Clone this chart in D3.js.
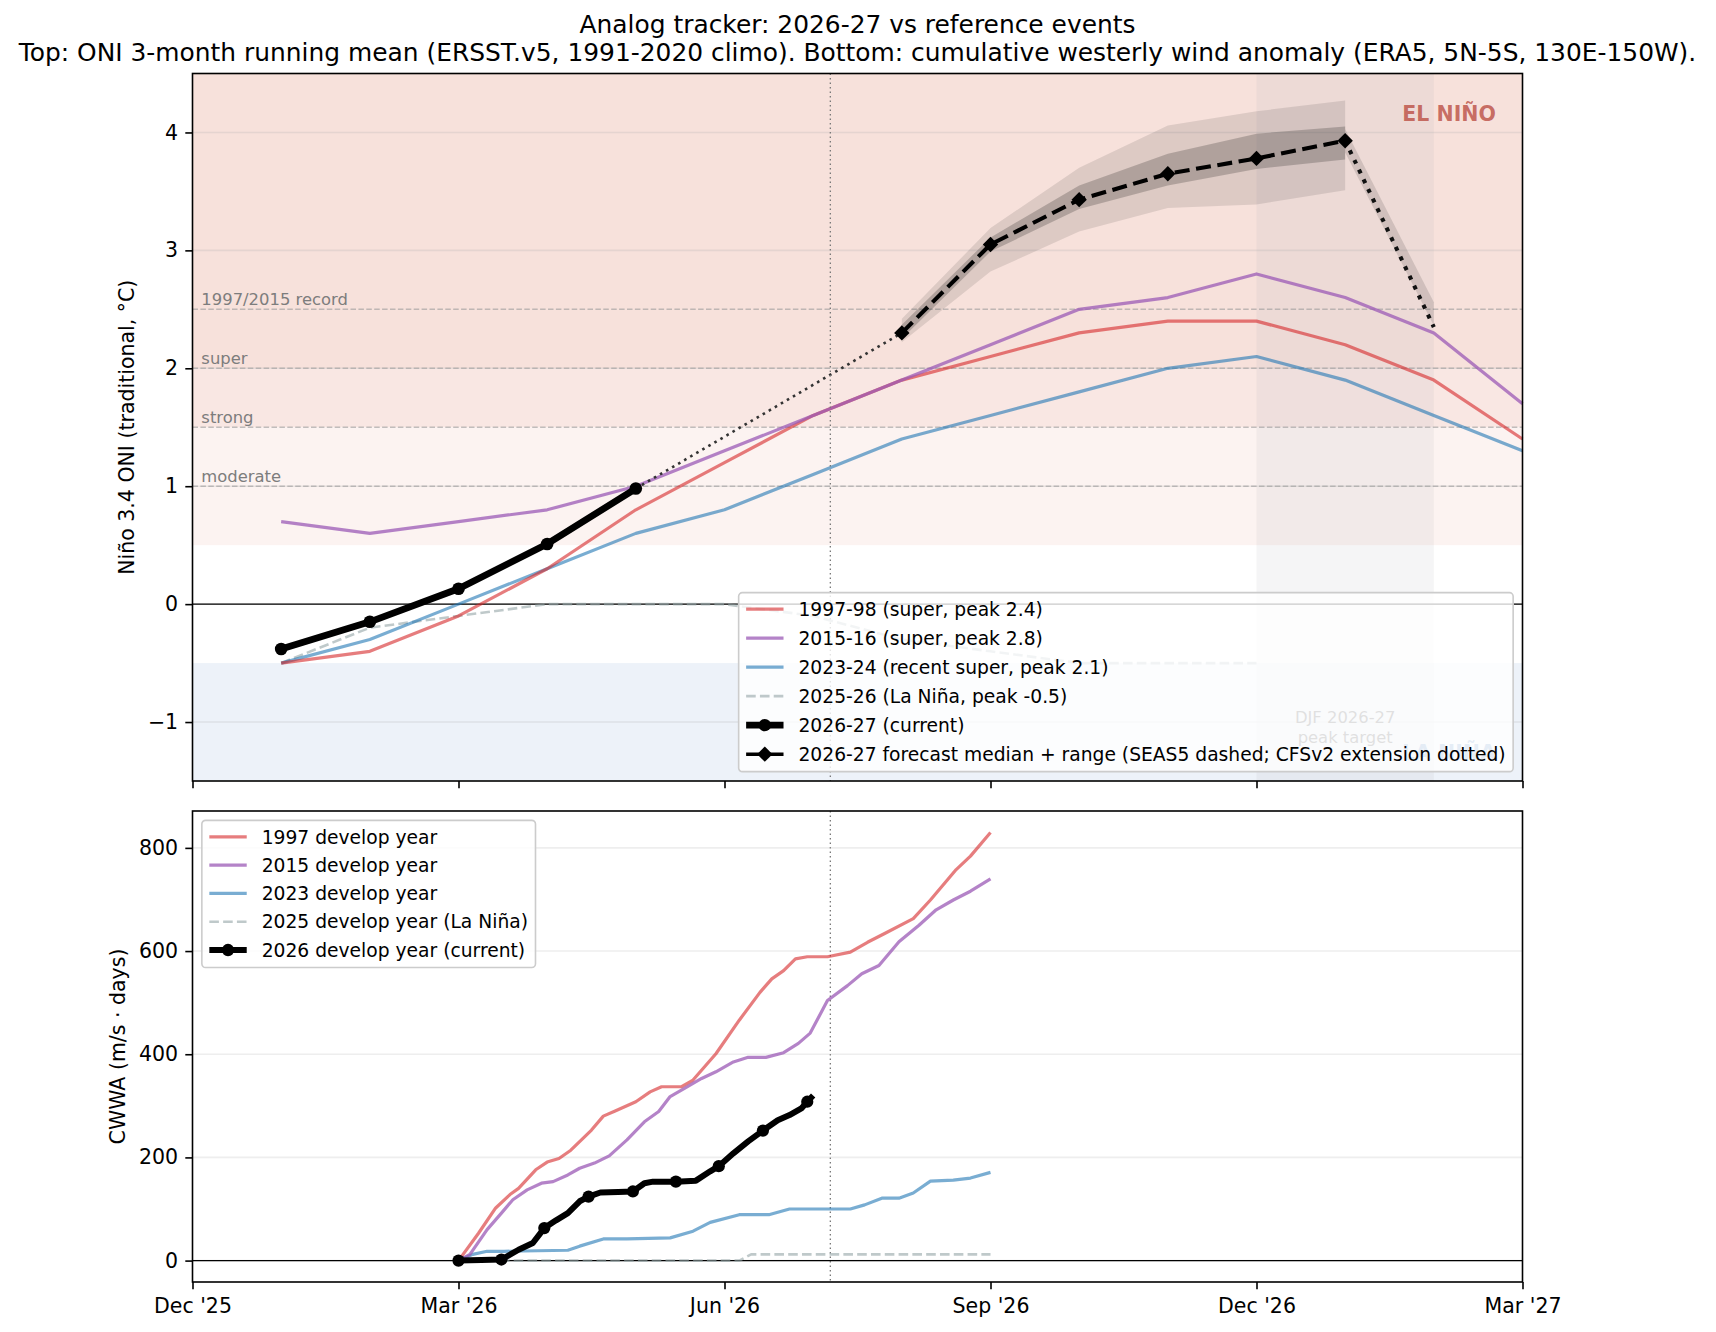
<!DOCTYPE html>
<html>
<head>
<meta charset="utf-8">
<script src="https://cdn.jsdelivr.net/npm/d3@7"></script>
<style>
  body { margin: 0; background: #fff; }
  svg text { font-family: "DejaVu Sans", sans-serif; }
</style>
</head>
<body>
<div id="chart"></div>
<script>
// x positions are month indices: 0 = Dec 2025 ... 15 = Mar 2027
var tickMonths = [0, 3, 6, 9, 12, 15];
var tickLabels = ["Dec '25", "Mar '26", "Jun '26", "Sep '26", "Dec '26", "Mar '27"];

// ONI, one value per month starting Jan 2026 (index 1)
var oni1997 = [-0.5, -0.4, -0.1, 0.3, 0.8, 1.2, 1.6, 1.9, 2.1, 2.3, 2.4, 2.4, 2.2, 1.9, 1.4];
var oni2015 = [0.7, 0.6, 0.7, 0.8, 1.0, 1.3, 1.6, 1.9, 2.2, 2.5, 2.6, 2.8, 2.6, 2.3, 1.7];
var oni2023 = [-0.5, -0.3, 0.0, 0.3, 0.6, 0.8, 1.1, 1.4, 1.6, 1.8, 2.0, 2.1, 1.9, 1.6, 1.3];
var oni2025 = [-0.5, -0.2, -0.1, 0.0, 0.0, 0.0, -0.1, -0.3, -0.4, -0.5, -0.5, -0.5];
var oni2026 = [-0.38, -0.15, 0.13, 0.51, 0.98];

// forecast (SEAS5) Aug 2026 .. Jan 2027
var fcMonths = [8, 9, 10, 11, 12, 13];
var fcMedian = [2.30, 3.05, 3.43, 3.65, 3.78, 3.93];
var fcInnerLo = [2.25, 2.99, 3.35, 3.55, 3.69, 3.77];
var fcInnerHi = [2.37, 3.11, 3.55, 3.82, 3.99, 4.05];
var fcOuterLo = [2.22, 2.82, 3.16, 3.36, 3.39, 3.51];
var fcOuterHi = [2.42, 3.19, 3.70, 4.06, 4.18, 4.27];
// CFSv2 extension Jan -> Feb 2027
var extMonths = [13, 14];
var extMedian = [3.93, 2.35];
var extLo = [3.83, 2.36];
var extHi = [4.03, 2.56];

var thresholds = [1.0, 1.5, 2.0, 2.5];
var thresholdLabels = ["moderate", "strong", "super", "1997/2015 record"];
var ninoBands = [[0.5, 1.5], [1.5, 2.0], [2.0, 4.5]];
var ninaBand = [-1.5, -0.5];
var djfMonths = [12, 14];
var today = new Date(2026, 6, 7);

// cumulative westerly wind anomaly: [days since 1 Mar 2026, m/s*days]
var cwwa1997 = [[0,0],[7,53],[13,102],[18,128],[21,140],[27,176],[31,191],[35,198],[39,214],[46,253],[50,280],[54,290],[61,308],[66,327],[70,337],[77,337],[81,350],[89,401],[97,466],[104,520],[108,546],[112,562],[116,585],[120,589],[127,589],[135,598],[141,617],[147,634],[157,663],[163,699],[172,758],[177,784],[184,830]];
var cwwa2015 = [[0,0],[4,12],[10,60],[15,92],[19,118],[24,137],[29,150],[33,153],[38,166],[42,179],[47,189],[52,203],[58,234],[64,269],[69,289],[73,318],[78,334],[84,353],[89,366],[95,385],[100,394],[106,394],[112,403],[117,421],[121,441],[127,504],[134,533],[139,556],[145,572],[152,618],[159,650],[165,680],[171,699],[177,716],[184,740]];
var cwwa2023 = [[0,0],[5,12],[10,18],[16,18],[38,20],[42,28],[50,42],[58,42],[73,44],[81,57],[87,74],[97,89],[107,89],[114,100],[135,100],[140,108],[146,121],[152,121],[157,131],[163,154],[171,156],[177,160],[184,171]];
var cwwa2025 = [[0,0],[97,0],[101,12],[184,12]];
var cwwa2026 = [[0,0],[8,1],[15,2],[21,21],[26,34],[30,63],[34,78],[38,92],[42,115],[45,124],[49,132],[55,133],[60,134],[64,150],[67,153],[75,153],[82,155],[87,173],[90,183],[95,208],[100,231],[105,252],[110,272],[114,282],[118,295],[120,308],[122,320]];

var topLegendLabels = ["1997-98 (super, peak 2.4)", "2015-16 (super, peak 2.8)", "2023-24 (recent super, peak 2.1)",
  "2025-26 (La Niña, peak -0.5)", "2026-27 (current)", "2026-27 forecast median + range (SEAS5 dashed; CFSv2 extension dotted)"];
var botLegendLabels = ["1997 develop year", "2015 develop year", "2023 develop year", "2025 develop year (La Niña)", "2026 develop year (current)"];

// ---- styles ----
var red = { color: "#d62728", opacity: 0.6, width: 3.2 };
var purple = { color: "#9b59b6", opacity: 0.75, width: 3.2 };
var blue = { color: "#1f77b4", opacity: 0.6, width: 3.2 };
var grey = { color: "#95a5a6", opacity: 0.6, width: 2.6, dash: "9.6,4.2" };

var W = 1716, H = 1332;
var left = 192.5, right = 1522.5;
var top1 = 73.5, bot1 = 781, top2 = 811, bot2 = 1282;
var tickFs = 20.5, legFs = 18.7;

var x = d3.scaleLinear().domain([0, 15]).range([left, right]);
var yTop = d3.scaleLinear().domain([-1.5, 4.5]).range([bot1, top1]);
var yBot = d3.scaleLinear().domain([-41.5, 871.5]).range([bot2, top2]);

// month index from a date, fraction by day of month
function monthIndex(date) {
  var m = (date.getFullYear() - 2025) * 12 + date.getMonth() - 11;
  var dim = new Date(date.getFullYear(), date.getMonth() + 1, 0).getDate();
  return m + (date.getDate() - 1) / dim;
}
var mar1 = new Date(2026, 2, 1);
function dayX(d) { return x(monthIndex(d3.timeDay.offset(mar1, d))); }

var svg = d3.select("#chart").append("svg")
  .attr("width", W).attr("height", H)
  .style("background", "#fff");

// titles
svg.append("text").attr("x", (left + right) / 2).attr("y", 33)
  .attr("text-anchor", "middle").attr("font-size", 24.9)
  .text("Analog tracker: 2026-27 vs reference events");
svg.append("text").attr("x", (left + right) / 2).attr("y", 60.5)
  .attr("text-anchor", "middle").attr("font-size", 24.9)
  .text("Top: ONI 3-month running mean (ERSST.v5, 1991-2020 climo). Bottom: cumulative westerly wind anomaly (ERA5, 5N-5S, 130E-150W).");

// ================= top panel =================
var g1 = svg.append("g");

// background regime bands
var ninoFills = ["#fcf3f1", "#f9e7e3", "#f7e1db"];
g1.selectAll("rect.nino").data(ninoBands).join("rect")
  .attr("x", left).attr("width", right - left)
  .attr("y", d => yTop(d[1])).attr("height", d => yTop(d[0]) - yTop(d[1]))
  .attr("fill", (d, i) => ninoFills[i]);
g1.append("rect")
  .attr("x", left).attr("width", right - left)
  .attr("y", yTop(ninaBand[1])).attr("height", yTop(ninaBand[0]) - yTop(ninaBand[1]))
  .attr("fill", "#edf2f9");

// DJF target window
g1.append("rect")
  .attr("x", x(djfMonths[0])).attr("width", x(djfMonths[1]) - x(djfMonths[0]))
  .attr("y", top1).attr("height", bot1 - top1)
  .attr("fill", "#a0a4ab").attr("opacity", 0.11);

// horizontal grid
g1.selectAll("line.grid").data([-1, 0, 1, 2, 3, 4]).join("line")
  .attr("x1", left).attr("x2", right)
  .attr("y1", d => yTop(d)).attr("y2", d => yTop(d))
  .attr("stroke", "#b0b0b0").attr("stroke-opacity", 0.25).attr("stroke-width", 1.6);

// intensity thresholds
g1.selectAll("line.thr").data(thresholds).join("line")
  .attr("x1", left).attr("x2", right)
  .attr("y1", d => yTop(d)).attr("y2", d => yTop(d))
  .attr("stroke", "#9a9a9a").attr("stroke-opacity", 0.6)
  .attr("stroke-width", 1.5).attr("stroke-dasharray", "5.5,2.4");
g1.selectAll("text.thr").data(thresholds).join("text")
  .attr("x", x(0.1)).attr("y", d => yTop(d) - 4.5)
  .attr("font-size", 16.4).attr("fill", "#7d7d7d")
  .text((d, i) => thresholdLabels[i]);

// zero line
g1.append("line").attr("x1", left).attr("x2", right)
  .attr("y1", yTop(0)).attr("y2", yTop(0))
  .attr("stroke", "#000").attr("stroke-width", 1.4);

// today marker (both panels)
[[top1, bot1], [top2, bot2]].forEach(function (r) {
  svg.append("line").attr("x1", x(monthIndex(today))).attr("x2", x(monthIndex(today)))
    .attr("y1", r[0]).attr("y2", r[1])
    .attr("stroke", "#777").attr("stroke-width", 1.3).attr("stroke-dasharray", "1.5,3");
});

// forecast ranges
var area = d3.area().x(d => x(d.m)).y0(d => yTop(d.lo)).y1(d => yTop(d.hi));
g1.append("path")
  .datum(fcMonths.map((m, i) => ({ m: m, lo: fcOuterLo[i], hi: fcOuterHi[i] })))
  .attr("d", area).attr("fill", "#000").attr("fill-opacity", 0.1);
g1.append("path")
  .datum(fcMonths.map((m, i) => ({ m: m, lo: fcInnerLo[i], hi: fcInnerHi[i] })))
  .attr("d", area).attr("fill", "#000").attr("fill-opacity", 0.2);
g1.append("path")
  .datum(extMonths.map((m, i) => ({ m: m, lo: extLo[i], hi: extHi[i] })))
  .attr("d", area).attr("fill", "#000").attr("fill-opacity", 0.12);

// reference years
var lineTop = d3.line().x(d => x(d.m)).y(d => yTop(d.v));
function monthly(vals) { return vals.map((v, i) => ({ m: i + 1, v: v })); }
function drawLine(g, data, gen, st) {
  return g.append("path").datum(data).attr("d", gen)
    .attr("fill", "none").attr("stroke", st.color)
    .attr("stroke-opacity", st.opacity).attr("stroke-width", st.width)
    .attr("stroke-dasharray", st.dash || null)
    .attr("stroke-linejoin", "round");
}
drawLine(g1, monthly(oni2025), lineTop, grey);
drawLine(g1, monthly(oni2023), lineTop, blue);
drawLine(g1, monthly(oni1997), lineTop, red);
drawLine(g1, monthly(oni2015), lineTop, purple);

// connector from last obs to first forecast
drawLine(g1, [{ m: oni2026.length, v: oni2026[oni2026.length - 1] }, { m: fcMonths[0], v: fcMedian[0] }],
  lineTop, { color: "#333", opacity: 1, width: 2.6, dash: "2.6,4.4" });
// CFSv2 extension
drawLine(g1, extMonths.map((m, i) => ({ m: m, v: extMedian[i] })), lineTop,
  { color: "#111", opacity: 1, width: 4.1, dash: "4.1,6.6" });
// SEAS5 median
var fcData = fcMonths.map((m, i) => ({ m: m, v: fcMedian[i] }));
drawLine(g1, fcData, lineTop, { color: "#000", opacity: 1, width: 4.1, dash: "15,6.6" });
var diamond = d3.symbol().type(d3.symbolSquare).size(118);
g1.selectAll("path.fc").data(fcData).join("path")
  .attr("d", diamond)
  .attr("transform", d => `translate(${x(d.m)},${yTop(d.v)}) rotate(45)`)
  .attr("fill", "#000");

// current year
var cur = monthly(oni2026);
drawLine(g1, cur, lineTop, { color: "#000", opacity: 1, width: 6.8 });
g1.selectAll("circle.cur").data(cur).join("circle")
  .attr("cx", d => x(d.m)).attr("cy", d => yTop(d.v)).attr("r", 6.3).attr("fill", "#000");

// labels
g1.append("text").attr("x", x(14.7)).attr("y", 120.5)
  .attr("text-anchor", "end").attr("font-size", 20.5).attr("font-weight", "bold")
  .attr("fill", "#b8473b").attr("fill-opacity", 0.75).text("EL NIÑO");
g1.append("text").attr("x", x(14.7)).attr("y", 760)
  .attr("text-anchor", "end").attr("font-size", 20.5).attr("font-weight", "bold")
  .attr("fill", "#2f6db5").attr("fill-opacity", 0.6).text("LA NIÑA");
g1.append("text").attr("x", x((djfMonths[0] + djfMonths[1]) / 2)).attr("y", 723)
  .attr("text-anchor", "middle").attr("font-size", 16.4).attr("fill", "#666")
  .text("DJF 2026-27");
g1.append("text").attr("x", x((djfMonths[0] + djfMonths[1]) / 2)).attr("y", 742.5)
  .attr("text-anchor", "middle").attr("font-size", 16.4).attr("fill", "#666")
  .text("peak target");

// ================= bottom panel =================
var g2 = svg.append("g");

g2.selectAll("line.grid").data([0, 200, 400, 600, 800]).join("line")
  .attr("x1", left).attr("x2", right)
  .attr("y1", d => yBot(d)).attr("y2", d => yBot(d))
  .attr("stroke", "#b0b0b0").attr("stroke-opacity", 0.22).attr("stroke-width", 1.6);
g2.append("line").attr("x1", left).attr("x2", right)
  .attr("y1", yBot(0)).attr("y2", yBot(0))
  .attr("stroke", "#000").attr("stroke-width", 1.4);

var lineBot = d3.line().x(d => dayX(d[0])).y(d => yBot(d[1]));
drawLine(g2, cwwa2025, lineBot, grey);
drawLine(g2, cwwa2023, lineBot, blue);
drawLine(g2, cwwa1997, lineBot, red);
drawLine(g2, cwwa2015, lineBot, purple);
drawLine(g2, cwwa2026, lineBot, { color: "#000", opacity: 1, width: 6 });
g2.selectAll("circle.cur").data(cwwa2026.filter(d => d[0] % 15 === 0)).join("circle")
  .attr("cx", d => dayX(d[0])).attr("cy", d => yBot(d[1])).attr("r", 6.1).attr("fill", "#000");

// ================= axes =================
function styleAxis(sel) {
  sel.select(".domain").remove();
  sel.selectAll(".tick line").attr("stroke", "#000").attr("stroke-width", 1.6);
  sel.selectAll(".tick text").attr("font-size", tickFs).attr("fill", "#000")
    .attr("font-family", "DejaVu Sans");
}
var xAxisTop = svg.append("g").attr("transform", `translate(0,${bot1})`)
  .call(d3.axisBottom(x).tickValues(tickMonths).tickFormat("").tickSize(7.2));
styleAxis(xAxisTop);
var xAxisBot = svg.append("g").attr("transform", `translate(0,${bot2})`)
  .call(d3.axisBottom(x).tickValues(tickMonths).tickFormat((d, i) => tickLabels[i]).tickSize(7.2).tickPadding(7.2));
styleAxis(xAxisBot);
xAxisBot.selectAll(".tick text").attr("dy", null).attr("y", 31);

var yAxisTop = svg.append("g").attr("transform", `translate(${left},0)`)
  .call(d3.axisLeft(yTop).tickValues([-1, 0, 1, 2, 3, 4]).tickFormat(d3.format("d")).tickSize(7.2).tickPadding(7.2));
styleAxis(yAxisTop);
var yAxisBot = svg.append("g").attr("transform", `translate(${left},0)`)
  .call(d3.axisLeft(yBot).tickValues([0, 200, 400, 600, 800]).tickFormat(d3.format("d")).tickSize(7.2).tickPadding(7.2));
styleAxis(yAxisBot);

// spines
[[top1, bot1], [top2, bot2]].forEach(function (r) {
  svg.append("rect").attr("x", left).attr("y", r[0])
    .attr("width", right - left).attr("height", r[1] - r[0])
    .attr("fill", "none").attr("stroke", "#000").attr("stroke-width", 1.6);
});

// axis labels
svg.append("text").attr("transform", `translate(133.5,${(top1 + bot1) / 2}) rotate(-90)`)
  .attr("text-anchor", "middle").attr("font-size", 20.5)
  .text("Niño 3.4 ONI (traditional, °C)");
svg.append("text").attr("transform", `translate(124.5,${(top2 + bot2) / 2}) rotate(-90)`)
  .attr("text-anchor", "middle").attr("font-size", 20.5)
  .text("CWWA (m/s · days)");

// ================= legends =================
function drawLegend(items, corner, rowH) {
  var pad = 0.4 * legFs, hLen = 2 * legFs, gap = 0.8 * legFs;
  var lg = svg.append("g");
  var box = lg.append("rect");
  var rows = lg.selectAll("g.row").data(items).join("g")
    .attr("transform", (d, i) => `translate(0,${16.5 + i * rowH})`);
  rows.each(function (d) {
    var r = d3.select(this);
    var cx = pad + hLen / 2;
    r.append("line").attr("x1", pad).attr("x2", pad + hLen)
      .attr("stroke", d.st.color).attr("stroke-opacity", d.st.opacity)
      .attr("stroke-width", d.st.width).attr("stroke-dasharray", d.st.dash || null);
    if (d.marker === "circle") r.append("circle").attr("cx", cx).attr("r", 6.2).attr("fill", "#000");
    if (d.marker === "diamond") r.append("path").attr("d", diamond)
      .attr("transform", `translate(${cx},0) rotate(45)`).attr("fill", "#000");
  });
  var texts = rows.append("text").attr("x", pad + hLen + gap).attr("y", 0).attr("dy", "0.36em")
    .attr("font-size", legFs).text(d => d.label);
  var maxW = d3.max(texts.nodes(), n => n.getComputedTextLength());
  var w = pad + hLen + gap + maxW + pad;
  var h = (items.length - 1) * rowH + 34;
  var bx = corner === "ul" ? left + 0.5 * legFs : right - 0.5 * legFs - w;
  var by = corner === "ul" ? top2 + 0.5 * legFs : bot1 - 0.5 * legFs - h;
  box.attr("width", w).attr("height", h).attr("rx", 3.7)
    .attr("fill", "#fff").attr("fill-opacity", 0.8)
    .attr("stroke", "#cccccc").attr("stroke-width", 1.6);
  lg.attr("transform", `translate(${bx},${by})`);
}

var black = { color: "#000", opacity: 1, width: 6.8 };
drawLegend([
  { label: topLegendLabels[0], st: red },
  { label: topLegendLabels[1], st: purple },
  { label: topLegendLabels[2], st: blue },
  { label: topLegendLabels[3], st: grey },
  { label: topLegendLabels[4], st: black, marker: "circle" },
  { label: topLegendLabels[5], st: { color: "#000", opacity: 1, width: 3.5 }, marker: "diamond" }
], "lr", 29);
drawLegend([
  { label: botLegendLabels[0], st: red },
  { label: botLegendLabels[1], st: purple },
  { label: botLegendLabels[2], st: blue },
  { label: botLegendLabels[3], st: grey },
  { label: botLegendLabels[4], st: { color: "#000", opacity: 1, width: 6 }, marker: "circle" }
], "ul", 28.3);
</script>
</body>
</html>
